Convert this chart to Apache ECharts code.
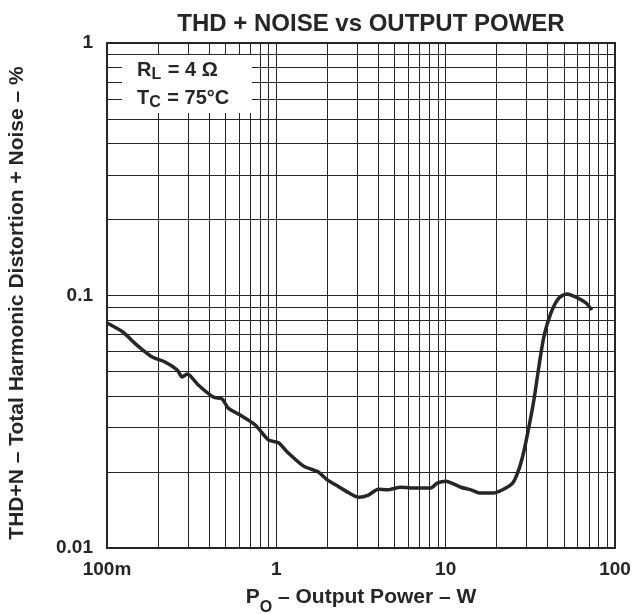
<!DOCTYPE html>
<html>
<head>
<meta charset="utf-8">
<script src="https://cdn.jsdelivr.net/npm/echarts@6/dist/echarts.min.js"></script>
<style>
  html, body { margin: 0; padding: 0; background: #fff; }
  #chart { width: 632px; height: 614px; }
</style>
</head>
<body>
<div id="chart"></div>
<script>
// Output power (W) and THD+N (%) measured at RL = 4 Ω, TC = 75 °C
const powerW = [0.1, 0.124, 0.143, 0.157, 0.185, 0.22, 0.26, 0.278, 0.298, 0.346,
  0.424, 0.479, 0.52, 0.612, 0.751, 0.897, 1.03, 1.16, 1.45, 1.77,
  2.0, 2.3, 2.74, 3.06, 3.5, 4.0, 4.54, 5.42, 6.21, 7.41,
  8.15, 8.97, 10.0, 12.3, 14.1, 16.1, 19.0, 21.7, 24.9, 27.0,
  28.9, 31.0, 33.2, 35.5, 38.0, 41.8, 46.6, 52.0, 60.4, 67.4, 73.1];
const thdPct = [0.0778, 0.0717, 0.0655, 0.062, 0.0571, 0.0545, 0.0507, 0.0476, 0.0489, 0.0442,
  0.0396, 0.0389, 0.0358, 0.0336, 0.0307, 0.0268, 0.0261, 0.024, 0.0211, 0.02,
  0.0186, 0.0176, 0.0164, 0.0159, 0.0162, 0.0171, 0.017, 0.0174, 0.0173, 0.0173,
  0.0173, 0.0181, 0.0184, 0.0174, 0.017, 0.0165, 0.0165, 0.017, 0.0181, 0.0204,
  0.024, 0.0301, 0.0386, 0.0521, 0.0685, 0.0852, 0.0977, 0.1014, 0.0977, 0.0934, 0.0876];

// Axis ranges and tick labels
const xTicks = [0.1, 1, 10, 100];
const xTickLabels = ['100m', '1', '10', '100'];
const yTicks = [0.01, 0.1, 1];
const yTickLabels = ['0.01', '0.1', '1'];

// Intermediate log grid lines (2..9 within each decade)
const xMinorGrid = [0.2, 0.3, 0.4, 0.5, 0.6, 0.7, 0.8, 0.9,
  2, 3, 4, 5, 6, 7, 8, 9, 20, 30, 40, 50, 60, 70, 80, 90];
const yMinorGrid = [0.02, 0.03, 0.04, 0.05, 0.06, 0.07, 0.08, 0.09,
  0.2, 0.3, 0.4, 0.5, 0.6, 0.7, 0.8, 0.9];

const INK = '#262626';
const FONT = 'Liberation Sans, Arial, sans-serif';

function tickLabel(ticks, labels) {
  return function (v) {
    for (let i = 0; i < ticks.length; i++) {
      if (Math.abs(Math.log10(v) - Math.log10(ticks[i])) < 1e-6) return labels[i];
    }
    return '';
  };
}

const chart = echarts.init(document.getElementById('chart'), null, { renderer: 'canvas' });

const gridLines = xMinorGrid.map(v => ({ xAxis: v }))
  .concat(yMinorGrid.map(v => ({ yAxis: v })));

chart.setOption({
  animation: false,
  backgroundColor: '#fff',
  title: {
    text: 'THD + NOISE vs OUTPUT POWER',
    left: 366,
    top: 7,
    textAlign: 'center',
    textStyle: { fontFamily: FONT, fontWeight: 'bold', fontSize: 24, color: INK }
  },
  grid: {
    left: 107, right: 17, top: 43, bottom: 66,
    outerBoundsMode: 'none',
    containLabel: false,
    show: true, borderColor: INK, borderWidth: 2, backgroundColor: 'transparent'
  },
  xAxis: {
    type: 'log', logBase: 10, min: 0.1, max: 100,
    name: '{p|P}{s|O}{p| – Output Power – W}',
    nameLocation: 'middle',
    nameGap: 39,
    nameTextStyle: {
      rich: {
        p: { fontFamily: FONT, fontWeight: 'bold', fontSize: 21, color: INK },
        s: { fontFamily: FONT, fontWeight: 'bold', fontSize: 16, color: INK, verticalAlign: 'bottom', padding: [0, 0, -8, 0] }
      }
    },
    axisLine: { show: true, lineStyle: { color: INK, width: 2 } },
    axisTick: { show: false },
    splitLine: { show: true, lineStyle: { color: INK, width: 1 } },
    axisLabel: {
      formatter: tickLabel(xTicks, xTickLabels),
      fontFamily: FONT, fontWeight: 'bold', fontSize: 19, color: INK, margin: 12
    }
  },
  yAxis: {
    type: 'log', logBase: 10, min: 0.01, max: 1,
    axisLine: { show: true, lineStyle: { color: INK, width: 2 } },
    axisTick: { show: false },
    splitLine: { show: true, lineStyle: { color: INK, width: 1 } },
    axisLabel: {
      formatter: tickLabel(yTicks, yTickLabels),
      fontFamily: FONT, fontWeight: 'bold', fontSize: 19, color: INK, margin: 14
    }
  },
  graphic: [
    {
      // vertical axis title
      type: 'text', x: 17, y: 303, rotation: Math.PI / 2,
      style: {
        text: 'THD+N – Total Harmonic Distortion + Noise – %',
        fontFamily: FONT, fontWeight: 'bold', fontSize: 21, fill: INK,
        align: 'center', verticalAlign: 'middle'
      }
    },
    {
      type: 'rect', z: 50,
      shape: { x: 122, y: 55, width: 130, height: 58 },
      style: { fill: '#fff' }
    },
    {
      type: 'text', z: 51, left: 137, top: 60,
      style: {
        text: '{b|R}{s|L}{b| = 4 Ω}',
        rich: {
          b: { fontFamily: FONT, fontWeight: 'bold', fontSize: 20, fill: INK },
          s: { fontFamily: FONT, fontWeight: 'bold', fontSize: 16, fill: INK, padding: [9, 1, 0, 0] }
        }
      }
    },
    {
      type: 'text', z: 51, left: 137, top: 88,
      style: {
        text: '{b|T}{s|C}{b| = 75°C}',
        rich: {
          b: { fontFamily: FONT, fontWeight: 'bold', fontSize: 20, fill: INK },
          s: { fontFamily: FONT, fontWeight: 'bold', fontSize: 16, fill: INK, padding: [9, 1, 0, 0] }
        }
      }
    }
  ],
  series: [
    {
      type: 'line',
      data: [],
      silent: true,
      markLine: {
        silent: true,
        symbol: 'none',
        label: { show: false },
        lineStyle: { color: INK, width: 1, type: 'solid' },
        data: gridLines
      }
    },
    {
      type: 'line',
      data: powerW.map((p, i) => [p, thdPct[i]]),
      showSymbol: false,
      smooth: 0.25,
      z: 10,
      lineStyle: { color: INK, width: 3.5 }
    }
  ]
});
</script>
</body>
</html>
